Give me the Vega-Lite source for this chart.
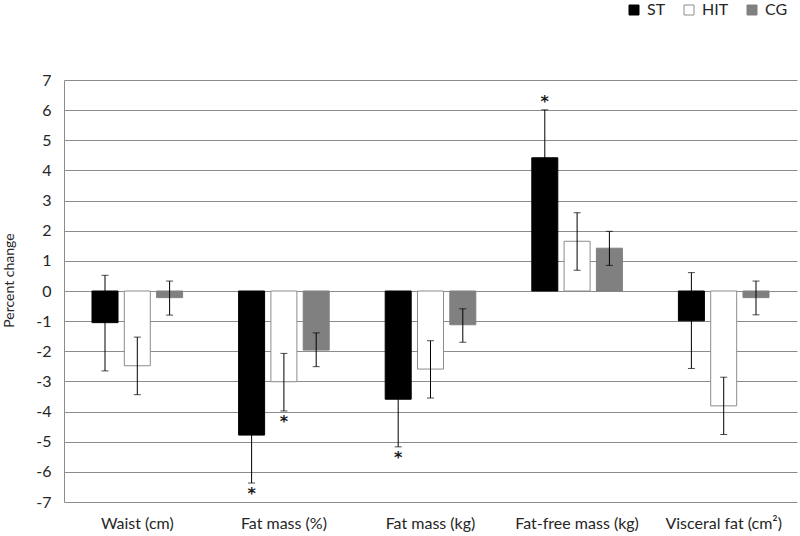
{
  "$schema": "https://vega.github.io/schema/vega-lite/v6.json",
  "width": 733,
  "height": 422,
  "autosize": {"type": "none"},
  "padding": {"left": 64, "top": 80, "right": 3, "bottom": 34},
  "background": "white",
  "config": {
    "view": {"stroke": null},
    "font": "Lato",
    "axis": {"labelColor": "#262626", "titleColor": "#262626", "labelFont": "Lato", "titleFont": "Lato"},
    "legend": {"labelFont": "Lato"}
  },
  "data": {
    "values": [
      {"measure": "Waist (cm)", "group": "ST", "mean": -1.05, "low": -2.65, "high": 0.52, "sig": false},
      {"measure": "Waist (cm)", "group": "HIT", "mean": -2.48, "low": -3.44, "high": -1.53, "sig": false},
      {"measure": "Waist (cm)", "group": "CG", "mean": -0.22, "low": -0.8, "high": 0.33, "sig": false},
      {"measure": "Fat mass (%)", "group": "ST", "mean": -4.78, "low": -6.37, "high": -3.2, "sig": true},
      {"measure": "Fat mass (%)", "group": "HIT", "mean": -3.01, "low": -3.98, "high": -2.07, "sig": true},
      {"measure": "Fat mass (%)", "group": "CG", "mean": -1.96, "low": -2.51, "high": -1.39, "sig": false},
      {"measure": "Fat mass (kg)", "group": "ST", "mean": -3.59, "low": -5.17, "high": -2.0, "sig": true},
      {"measure": "Fat mass (kg)", "group": "HIT", "mean": -2.59, "low": -3.55, "high": -1.65, "sig": false},
      {"measure": "Fat mass (kg)", "group": "CG", "mean": -1.12, "low": -1.7, "high": -0.59, "sig": false},
      {"measure": "Fat-free mass (kg)", "group": "ST", "mean": 4.42, "low": 2.83, "high": 6.01, "sig": true},
      {"measure": "Fat-free mass (kg)", "group": "HIT", "mean": 1.65, "low": 0.69, "high": 2.6, "sig": false},
      {"measure": "Fat-free mass (kg)", "group": "CG", "mean": 1.42, "low": 0.85, "high": 1.98, "sig": false},
      {"measure": "Visceral fat (cm²)", "group": "ST", "mean": -0.99, "low": -2.57, "high": 0.61, "sig": false},
      {"measure": "Visceral fat (cm²)", "group": "HIT", "mean": -3.81, "low": -4.76, "high": -2.86, "sig": false},
      {"measure": "Visceral fat (cm²)", "group": "CG", "mean": -0.22, "low": -0.79, "high": 0.33, "sig": false}
    ]
  },
  "encoding": {
    "x": {
      "field": "measure",
      "type": "nominal",
      "sort": ["Waist (cm)", "Fat mass (%)", "Fat mass (kg)", "Fat-free mass (kg)", "Visceral fat (cm²)"],
      "scale": {"paddingInner": 0.382, "paddingOuter": 0.191},
      "axis": {"title": null, "domain": false, "ticks": false, "labelAngle": 0, "labelPadding": 13, "labelFontSize": 16, "labelBaseline": "top"}
    },
    "xOffset": {
      "field": "group",
      "type": "nominal",
      "sort": ["ST", "HIT", "CG"],
      "scale": {"paddingInner": 0.195, "paddingOuter": 0}
    }
  },
  "layer": [
    {
      "mark": {"type": "bar", "strokeWidth": 1},
      "encoding": {
        "y": {
          "field": "mean",
          "type": "quantitative",
          "scale": {"domain": [-7, 7], "nice": false},
          "axis": {
            "values": [-7, -6, -5, -4, -3, -2, -1, 0, 1, 2, 3, 4, 5, 6, 7],
            "tickCount": 30,
            "labelExpr": "toString(datum.value)",
            "labelOverlap": false,
            "grid": true,
            "gridColor": "#8c8c8c",
            "gridWidth": 1,
            "domain": true,
            "domainColor": "#8c8c8c",
            "ticks": false,
            "labelPadding": 13,
            "labelFontSize": 16,
            "title": "Percent change",
            "titleFontSize": 14,
            "titleFontWeight": "normal",
            "titleAngle": -90,
            "titleX": -55,
            "titleY": 200,
            "titleAlign": "center",
            "titleBaseline": "middle"
          }
        },
        "fill": {
          "field": "group",
          "type": "nominal",
          "sort": ["ST", "HIT", "CG"],
          "scale": {"domain": ["ST", "HIT", "CG"], "range": ["#000000", "#ffffff", "#808080"]},
          "legend": {
            "title": null,
            "orient": "none",
            "direction": "horizontal",
            "legendX": 562,
            "legendY": -78,
            "symbolType": "square",
            "symbolSize": 100,
            "symbolStrokeWidth": 1,
            "labelFontSize": 16,
            "labelColor": "#262626",
            "labelOffset": 5,
            "columnPadding": 15,
            "padding": 0
          }
        },
        "stroke": {
          "field": "group",
          "type": "nominal",
          "sort": ["ST", "HIT", "CG"],
          "scale": {"domain": ["ST", "HIT", "CG"], "range": ["#000000", "#8c8c8c", "#808080"]},
          "legend": {
            "title": null,
            "orient": "none",
            "direction": "horizontal",
            "legendX": 562,
            "legendY": -78,
            "symbolType": "square",
            "symbolSize": 100,
            "labelFontSize": 16,
            "labelOffset": 5,
            "columnPadding": 15,
            "padding": 0
          }
        }
      }
    },
    {
      "mark": {"type": "rule", "color": "#000000", "strokeWidth": 1},
      "encoding": {
        "y": {"field": "low", "type": "quantitative"},
        "y2": {"field": "high"}
      }
    },
    {
      "mark": {"type": "tick", "color": "#000000", "size": 7, "thickness": 1},
      "encoding": {"y": {"field": "low", "type": "quantitative"}}
    },
    {
      "mark": {"type": "tick", "color": "#000000", "size": 7, "thickness": 1},
      "encoding": {"y": {"field": "high", "type": "quantitative"}}
    },
    {
      "transform": [{"filter": "datum.sig && datum.mean < 0"}],
      "mark": {"type": "text", "text": "*", "baseline": "top", "dy": 3, "font": "DejaVu Sans", "fontSize": 16, "fontWeight": "bold", "color": "#1a1a1a"},
      "encoding": {"y": {"field": "low", "type": "quantitative"}}
    },
    {
      "transform": [{"filter": "datum.sig && datum.mean > 0"}],
      "mark": {"type": "text", "text": "*", "baseline": "bottom", "dy": 0, "font": "DejaVu Sans", "fontSize": 16, "fontWeight": "bold", "color": "#1a1a1a"},
      "encoding": {"y": {"field": "high", "type": "quantitative"}}
    }
  ]
}
